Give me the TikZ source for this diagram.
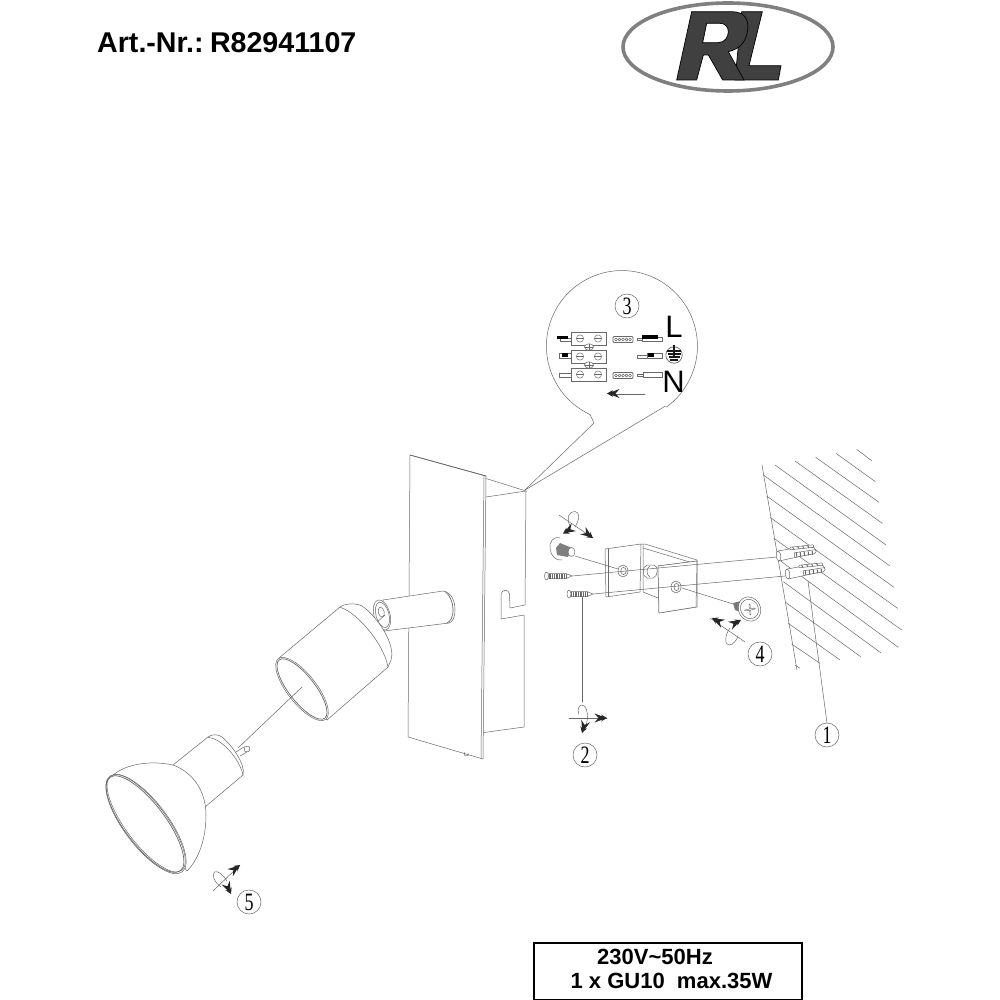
\documentclass[tikz,border=0pt]{standalone}
\usepackage{fontspec}
\usepackage{graphicx}
\setmainfont{Liberation Sans}
\newfontfamily\numfont{Liberation Serif}
\definecolor{ink}{HTML}{686868}
\definecolor{logoinner}{HTML}{404040}
\definecolor{logoring}{HTML}{808080}
\tikzset{
  ln/.style={draw=ink,line width=0.5pt,line join=round,line cap=round},
  thk/.style={draw=ink,line width=0.7pt,line join=round},
  hatch/.style={draw=ink,line width=0.5pt},
  numc/.style={circle,draw=ink,line width=0.5pt,minimum size=24pt,inner sep=0pt,fill=white,font=\numfont\fontsize{25}{25}\selectfont},
  title/.style={font=\bfseries\fontsize{28.6}{30}\selectfont,anchor=west,inner sep=0pt},
  spec/.style={font=\bfseries\fontsize{22}{24}\selectfont,inner sep=0pt},
  bigl/.style={font=\fontsize{31}{31}\selectfont,inner sep=0pt},
  term/.style={draw=ink,line width=0.45pt,fill=white},
}
\newcommand{\screwhead}[2]{\draw[ln,line width=.45pt,fill=white] (#1,#2) circle (3.6pt); \draw[ln,line width=.6pt] (#1-3.4,#2)--(#1+3.4,#2);}
\newcommand{\rdart}[3]{\begin{scope}[shift={(#1,#2)},rotate=#3]\fill[black!85] (0,0)--(-6,-3.5)--(-4.5,-1.5)--(-12.5,-4.5)--(-8.5,0)--(-12.5,4.5)--(-4.5,1.5)--(-6,3.5)--cycle;\end{scope}}
\newcommand{\thread}[5]{% x0 x1 ymid half-height step
 \foreach \q in {#1,#5,...,#2}{\draw[ink,line width=.55pt] (\q,#3-#4)--(\q,#3+#4);}}
\begin{document}
\begin{tikzpicture}[x=1pt,y=-1pt]
\useasboundingbox (0,0) rectangle (1000,1000);
\fill[white] (0,0) rectangle (1000,1000);
% header
\node[title] (artnr) at (97,43) {\spaceskip=.13em\relax Art.-Nr.: R82941107};
\draw[logoring,line width=3.6pt] (728,47) ellipse [x radius=105pt,y radius=44pt];
\begin{scope}[shift={(600,0)},scale=1/3]
\draw[fill=logoinner,draw=black,line width=.7pt] (425,35)--(487,35)--(447,197)--(543,197)--(535,240)--(405,240)--cycle;
\fill[white] (386,148)--(402,146)--(402,174)--cycle;
\draw[fill=logoinner,draw=black,line width=.7pt,even odd rule]
 (275,35)--(395,35) .. controls (435,35) and (447,60) .. (443,90) .. controls (438,130) and (415,148) .. (385,155)
 --(432,240)--(368,240)--(325,165)--(310,165)--(290,240)--(230,240)--cycle
 (320,70)--(308,128)--(355,128) .. controls (375,128) and (385,110) .. (385,95) .. controls (385,80) and (375,70) .. (360,70)--cycle;
\end{scope}
% wiring callout
\draw[ln] (594,423)--(590,414.5) arc[start angle=245,end angle=-54,radius=75.5pt] ;
\draw[ln] (594,423)--(525,490);
\draw[ln] (665.5,406)--(525,490);
\node[numc] (n3) at (627,306) {\scalebox{.72}[1]{3}};
\node[bigl] (lL) at (674,327) {L};
\node[bigl] (lN) at (673.5,381.5) {N};
% terminals
\foreach \y in {332,350,368}{\draw[term] (571.7,\y) rectangle (606,\y+13.3);}
\foreach \y in {338.5,356.5,374.5}{\screwhead{580}{\y}\screwhead{598}{\y}}
\foreach \y in {347,365}{\draw[ln,line width=.45pt,fill=white] (589,\y) ellipse [x radius=4.6pt,y radius=3.2pt]; \draw[ln,line width=.6pt] (585,\y)--(593,\y) (589,\y-3)--(589,\y+3);}
% left wires
\draw[ln,line width=.45pt,fill=white] (560,338) rectangle (571,341);
\fill[black] (557,336) rectangle (568,339.2);
\draw[ln,line width=.45pt,fill=white] (559.5,353.5) rectangle (571,358.5);
\fill[black] (562,353) rectangle (567.5,356.5);
\draw[ln,line width=.45pt,fill=white] (559,373) rectangle (571,377);
% ferrules
\foreach \y in {339.5,375.5}{
 \draw[ln,line width=.75pt,rounded corners=1pt] (613,\y-3) rectangle (633,\y+3);
 \foreach \x in {616,619.5,623,626.5,630}{\draw[ln,line width=.5pt] (\x,\y) circle (1.5pt);}
}
% right wires
\draw[ln,line width=.45pt] (637.5,338) rectangle (642,340.5);
\draw[ln,line width=.45pt,fill=white] (642,337) rectangle (662,341);
\fill[black] (642,335.2) rectangle (658,339);
\draw[ln,line width=.45pt] (637.5,355.5) rectangle (647,358);
\draw[ln,line width=.45pt,fill=white] (647,353.5) rectangle (662,358.5);
\fill[black] (648,353) rectangle (654,357);
\draw[ln,line width=.45pt] (637.5,374) rectangle (643,376.5);
\draw[ln,line width=.45pt,fill=white] (643,372.5) rectangle (662,377.5);
% earth
\draw[ink,line width=.7pt] (674,355) circle (8.2pt);
\draw[black!90,line width=1.3pt] (674,345)--(674,358) (667,351)--(681,351) (667.5,354)--(680.5,354) (668.5,357)--(679.5,357) (670,360)--(678,360);
% direction arrow
\draw[ln] (645,394)--(612,394);
\rdart{607}{393.5}{180}
% back plate
\draw[ln] (410,455)--(486,476)--(483,759)--(408,737)--cycle;
\draw[thk] (410,455)--(486,476);
\draw[ln] (484,476)--(481,758);
\draw[ln] (486,478.5)--(526,491)--(525,605)--(510,608)--(509.5,594) .. controls (509,589) and (502,589) .. (501,594)--(501,619)--(524,615)--(524,727)--(484,732.5);
\draw[ln] (486,497)--(526,491);
\draw[ln] (464,752)--(465,756)--(468,755.5)--(468,753);
% arm
\draw[ln,fill=white] (383,600)--(443,591) .. controls (451,592) and (455,601) .. (455,609) .. controls (455,617) and (453,622) .. (449,623)--(384,631)--cycle;
\draw[thk] (445,591.5) .. controls (450,595) and (453,603) .. (453,609) .. controls (453,617) and (451,621) .. (447,623);
\begin{scope}[shift={(382,615)},rotate=-75]
\draw[ln,fill=white] (0,0) ellipse [x radius=15.5pt,y radius=8pt];
\draw[ln] (0,-.5) ellipse [x radius=13pt,y radius=6.5pt];
\draw[ln] (-3,0) ellipse [x radius=5pt,y radius=3pt];
\end{scope}
\draw[ln] (376,623)--(385,615);
% lamp head cylinder
\draw[ln,fill=white] (279,658)--(340,607) .. controls (346,603) and (356,603) .. (362,606) .. controls (378,617) and (396,645) .. (391,660)--(388,667)--(327,720)--cycle;
\draw[ln] (340,607.5) .. controls (352,609) and (383,640) .. (388,667);
\begin{scope}[shift={(302,689)},rotate=-52]
\draw[ln,fill=white] (0,0) ellipse [x radius=38.5pt,y radius=14.5pt];
\draw[ln,line width=.7pt] (0,0) ellipse [x radius=37pt,y radius=13pt];
\end{scope}
% axis
\draw[ln] (238,748)--(302,687);
% bulb
\draw[ln,fill=white] (173,765)--(208,737) .. controls (212,734) and (218,734) .. (222,737) .. controls (232,745) and (246,765) .. (243,775)--(205,807)--cycle;
\draw[ln] (208,737.5) .. controls (222,738) and (240,760) .. (243,775);
\draw[ln] (236,752)--(244,747) (240,756)--(247,752);
\draw[ln,fill=white,rounded corners=.8pt] (244.5,746.5) rectangle (249.5,751.5);
\draw[ln,fill=white] (112,776) .. controls (125,764) and (150,760) .. (173,765) .. controls (192,772) and (206,790) .. (206,815) .. controls (206,840) and (198,860) .. (187,871)--cycle;
\begin{scope}[shift={(146,824)},rotate=-53]
\draw[ln,fill=white] (0,0) ellipse [x radius=60pt,y radius=22pt];
\draw[ln,line width=.7pt] (-.5,.8) ellipse [x radius=58.5pt,y radius=20.5pt];
\draw[ln] (-.5,-.6) ellipse [x radius=59pt,y radius=20.5pt];
\end{scope}
% bracket
\draw[ln] (645,544)--(697,560)--(697,607)--(659,613)--(658,566)--(697,561);
\draw[ln] (641,544)--(645,544) (643,545)--(643,592)--(658,598);
\draw[ln] (643,548)--(693,563);
\draw[ln,fill=white] (605,549)--(641,544)--(640,592)--(606,597)--cycle;
\draw[ln] (608,549) -- (608,596.5);
\draw[ln,fill=white] (658,566)--(697,561)--(696,607)--(659,613)--cycle;
\draw[ln] (623,571) ellipse [x radius=5pt,y radius=6pt];
\draw[ln] (623.5,571) ellipse [x radius=2.8pt,y radius=3.6pt];
\draw[ln] (676,587) ellipse [x radius=5pt,y radius=6pt];
\draw[ln] (676.5,587) ellipse [x radius=2.5pt,y radius=3.6pt];
\draw[ln] (647,565)--(654,565) .. controls (659,566) and (658,577) .. (653,578)--(647,578) .. controls (642,577) and (642,566) .. (647,565);
\draw[ln] (650,566) .. controls (646,568) and (646,575) .. (650,577);
% guide lines
\draw[ln] (575,556)--(618,569);
\draw[ln] (572,576)--(777,557);
\draw[ln] (593,594)--(785,576);
\draw[ln] (682,588)--(733,604);
\draw[ln] (582,597)--(582,702);
% left washer screw
\draw[ln] (560,538) .. controls (553,536) and (549,542) .. (550,549) .. controls (551,556) and (556,561) .. (562,560);
\fill[ink!85] (556,548)--(560,543)--(572,548)--(568,557)--(557,555)--cycle;
\draw[ln,fill=white] (571.5,552) ellipse [x radius=3.5pt,y radius=4.5pt];
% wood screws
\draw[ln,fill=white] (546.5,576) ellipse [x radius=2pt,y radius=4pt];
\thread{549}{566}{576}{2.5}{550.7}
\draw[ln] (566,573.5)--(572,576)--(566,578.5) (548.5,573.5)--(566,573.5) (548.5,578.5)--(566,578.5);
\draw[ln,fill=white] (569,594) ellipse [x radius=2pt,y radius=4pt];
\thread{571.5}{587}{594}{2.5}{573.2}
\draw[ln] (587,591.5)--(593,594)--(587,596.5) (571,591.5)--(587,591.5) (571,596.5)--(587,596.5);
% right washer screw
\fill[ink!90] (733,603)--(741,601)--(744,613)--(735,610)--cycle;
\begin{scope}[shift={(749.5,609)},rotate=-60]
\draw[ln,fill=white] (0,0) ellipse [x radius=12.5pt,y radius=11pt];
\draw[ln] (0,0) ellipse [x radius=10pt,y radius=8.8pt];
\end{scope}
\draw[ln,line width=1.5pt] (745,610.5)--(755,608.5);
\draw[ln,line width=1.5pt] (749.5,604.5)--(750.5,614.5);
\draw[white,line width=.6pt] (745.5,610.4)--(754.5,608.6) (749.6,605)--(750.4,614);
% wall
\draw[ln] (762,465)--(797,670);
\foreach \a/\b/\c/\d in {320/28/365/62,258/40/376/125,197/52/387/187,135/63/397/250,75/75/408/315,40/105/420/378,50/168/432/442,60/232/443/505,72/295/455/570,85/358/445/622,100/425/392/638,108/488/332/650,115/550/270/660,125/612/210/670,135/675/150/685}{
  \draw[hatch] ({750+\a/3},{440+\b/3})--({750+\c/3},{440+\d/3});
}
% anchors
\foreach \x/\y in {778.5/556,787.5/574}{
\begin{scope}[shift={(\x,\y)},rotate=6]
\draw[ln,fill=white] (0,-5)--(14,-6)--(36,-5) .. controls (38,-4) and (38,-1) .. (36,1)--(14,3.5)--(0,5)--cycle;
\draw[ln,fill=white] (0,0) ellipse [x radius=2.3pt,y radius=5pt];
\draw[ln,fill=white,rounded corners=1pt] (12,-7.5) rectangle (36,-5);
\draw[ln,fill=white] (16,-1.5)--(37,-2.5)--(38,-.5)--(36,1.5)--(16,3)--cycle;
\foreach \k in {18,22,26,30,34}{\draw[ink,line width=1pt] (\k,-1.5)--(\k,2.5);}
\foreach \k in {15,20,25,30}{\draw[ink,line width=.9pt] (\k,-7.5)--(\k+1,-5);}
\end{scope}}
\draw[ln] (808,581)--(827,723);
% rotation symbols
\draw[ln] (559,515)--(593,538);
\draw[ln] (575,527) .. controls (580,519) and (580,512) .. (575,511.5) .. controls (569,511) and (566,518) .. (570,526);
\rdart{563}{533.5}{210}
\rdart{593}{538}{-36}
\draw[ln] (569,718)--(607,718);
\draw[ln] (578.5,714) .. controls (577,708) and (580,705) .. (582,705) .. controls (586,705) and (588,713) .. (587.5,718) .. controls (587,724) and (585,728) .. (583,730);
\rdart{607}{718}{0}
\rdart{582}{733}{253}
\draw[ln] (710,618)--(745,642);
\draw[ln] (730,628) .. controls (725,634) and (724,645) .. (729,645) .. controls (733,645) and (737,640) .. (738,636);
\rdart{712}{618}{153}
\rdart{741}{620}{27}
\draw[ln] (213,891)--(240,865);
\draw[ln] (227,881) .. controls (223,875) and (218,870) .. (214.5,872) .. controls (211,875) and (215,883) .. (221,887);
\rdart{240}{865}{38}
\rdart{231}{894}{-65}
% numbers
\node[numc] (n1) at (827,735) {\scalebox{.72}[1]{1}};
\node[numc] (n2) at (585,755) {\scalebox{.72}[1]{2}};
\node[numc] (n4) at (760,654) {\scalebox{.72}[1]{4}};
\node[numc] (n5) at (249,902) {\scalebox{.72}[1]{5}};
% spec box
\draw[black,line width=1.1pt] (534,943) rectangle (802,999.5);
\node[spec] (sp1) at (655,957) {230V\char`\~50Hz};
\node[spec] (sp2) at (671.5,981) {1 x GU10\ \ max.35W};
\end{tikzpicture}
\end{document}
